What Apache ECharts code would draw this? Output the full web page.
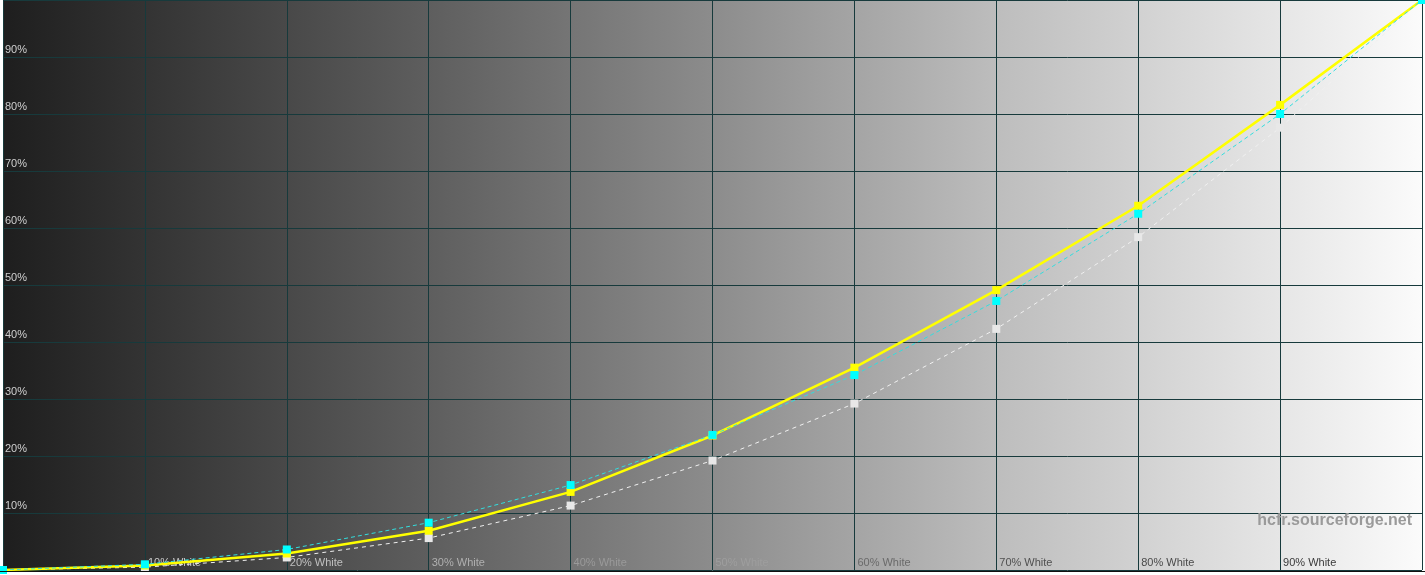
<!DOCTYPE html>
<html>
<head>
<meta charset="utf-8">
<script src="https://cdn.jsdelivr.net/npm/echarts@6/dist/echarts.min.js"></script>
<style>
  html, body { margin: 0; padding: 0; background: #ffffff; }
  #chart { width: 1425px; height: 575px; }
</style>
</head>
<body>
<div id="chart"></div>
<script>
// stimulus levels (% white) and measured luminance (% of white)
const levels = [0, 10, 20, 30, 40, 50, 60, 70, 80, 90, 100];
const referenceGamma = [0, 0.5, 2.2, 5.6, 11.3, 19.2, 29.2, 42.3, 58.4, 77.6, 100];
const measuredY = [0, 0.8, 2.9, 6.9, 13.7, 23.6, 35.5, 49.1, 63.9, 81.6, 100];
const measuredCyan = [0, 1.0, 3.6, 8.3, 14.9, 23.7, 34.2, 47.2, 62.5, 80.0, 100];

const xLabelColors = ['#c8c8c8', '#c8c8c8', '#c0c0c0', '#b0b0b0', '#9a9a9a', '#9e9e9e', '#6a6a6a', '#505050', '#4a4a4a', '#3a3a3a'];

function pairs(ys) {
    return levels.map((x, i) => [x, ys[i]]);
}

let chart = echarts.init(document.getElementById('chart'));

let option = {
    animation: false,
    backgroundColor: '#ffffff',
    textStyle: { fontFamily: 'Liberation Sans, Arial, sans-serif' },
    grid: {
        left: 2, right: 3, top: 0, bottom: 5,
        show: true,
        borderWidth: 0,
        backgroundColor: new echarts.graphic.LinearGradient(0, 0, 1, 0, [
            { offset: 0, color: '#1e1e1e' },
            { offset: 0.3, color: '#5e5e5e' },
            { offset: 0.5, color: '#8c8c8c' },
            { offset: 0.7, color: '#bdbdbd' },
            { offset: 0.9, color: '#e6e6e6' },
            { offset: 1, color: '#fbfbfb' }
        ])
    },
    xAxis: {
        type: 'value',
        min: 0, max: 100, interval: 10,
        axisLine: { show: false },
        axisTick: { show: false },
        splitLine: { show: true, lineStyle: { color: '#173a3c', width: 1 } },
        axisLabel: {
            inside: true,
            margin: 2,
            align: 'left',
            verticalAlign: 'bottom',
            padding: [0, 0, 0, 3],
            fontSize: 11,
            color: function (value) {
                return xLabelColors[Math.round(value / 10)] || '#888';
            },
            formatter: function (v) {
                return (v === 0 || v === 100) ? '' : v + '% White';
            }
        }
    },
    yAxis: {
        type: 'value',
        min: 0, max: 100, interval: 10,
        axisLine: { show: true, lineStyle: { color: '#173a3c' } },
        axisTick: { show: false },
        splitLine: { show: true, lineStyle: { color: '#173a3c', width: 1 } },
        axisLabel: {
            inside: true,
            margin: 2,
            align: 'left',
            verticalAlign: 'bottom',
            padding: [0, 0, 2, 0],
            fontSize: 11,
            color: '#cfcfcf',
            formatter: function (v) {
                return (v === 0 || v === 100) ? '' : v + '%';
            }
        }
    },
    series: [
        {
            name: 'Reference',
            type: 'line',
            data: pairs(referenceGamma),
            symbol: 'rect',
            symbolSize: 8,
            itemStyle: { color: '#e8e8e8' },
            lineStyle: { color: '#f0f0f0', width: 1, type: [4, 4] },
            z: 3
        },
        {
            name: 'Measured',
            type: 'line',
            data: pairs(measuredY),
            symbol: 'rect',
            symbolSize: 8,
            itemStyle: { color: '#ffff00' },
            lineStyle: { color: '#ffff00', width: 2.5 },
            z: 4
        },
        {
            name: 'Measured cyan',
            type: 'line',
            data: pairs(measuredCyan),
            symbol: 'rect',
            symbolSize: 8,
            itemStyle: { color: '#00ffff' },
            lineStyle: { color: '#33dddd', width: 1, type: [4, 3] },
            z: 5
        }
    ],
    graphic: [
        {
            type: 'text',
            right: 13,
            top: 513,
            style: {
                text: 'hcfr.sourceforge.net',
                font: 'bold 16px "Liberation Sans", Arial, sans-serif',
                fill: '#9a9a9a'
            },
            z: 10
        },
        {
            type: 'rect',
            left: 0,
            top: 571,
            shape: { width: 1425, height: 1 },
            style: { fill: '#111111' },
            z: 10
        }
    ]
};

option && chart.setOption(option);
</script>
</body>
</html>
